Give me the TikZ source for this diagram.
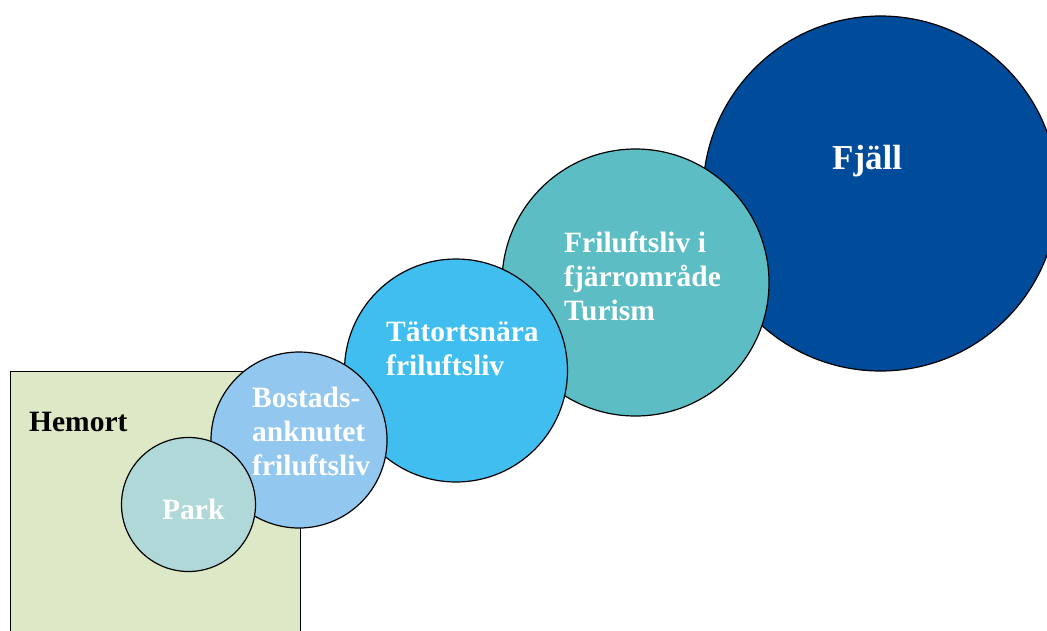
\documentclass[tikz,border=0pt]{standalone}
\usepackage{fontspec}
\setmainfont{Liberation Serif}
\definecolor{hemortfill}{RGB}{220,232,198}
\definecolor{parkfill}{RGB}{176,216,216}
\definecolor{bostfill}{RGB}{146,200,240}
\definecolor{tatfill}{RGB}{64,190,240}
\definecolor{frifill}{RGB}{92,190,196}
\definecolor{fjallfill}{RGB}{0,76,155}
\tikzset{
  ring/.style={circle, draw=black, line width=1.2pt, inner sep=0pt},
  lbl/.style={inner sep=0pt, text=white, align=left, font=\bfseries\fontsize{29.5}{34}\selectfont},
}
\begin{document}
\begin{tikzpicture}[x=1pt,y=-1pt]
\useasboundingbox (0,0) rectangle (1047,630);
\node[draw=black, line width=1.2pt, fill=hemortfill, anchor=north west, minimum width=290pt, minimum height=280pt, inner sep=0pt] (hemort) at (10,371) {};
\node[ring, fill=fjallfill, minimum size=355pt] (fjall) at (880.5,193.5) {};
\node[ring, fill=frifill, minimum size=267pt] (fri) at (635.5,282.5) {};
\node[ring, fill=tatfill, minimum size=223pt] (tat) at (456,370.5) {};
\node[ring, fill=bostfill, minimum size=176pt] (bost) at (299,440) {};
\node[ring, fill=parkfill, minimum size=134pt] (park) at (188.5,504.5) {};
\node[lbl, text=black, anchor=base west] (hemortlbl) at (29,431) {Hemort};
\node[lbl, anchor=base west] (parklbl) at (162,519) {Park};
\node[lbl, anchor=base west] (bostlbl) at (252,475) {Bostads-\\anknutet\\friluftsliv};
\node[lbl, anchor=base west] (tatlbl) at (386,375) {Tätortsnära\\friluftsliv};
\node[lbl, anchor=base west] (frilbl) at (564,320) {Friluftsliv i\\fjärrområde\\Turism};
\node[lbl, anchor=base west, font=\bfseries\fontsize{35}{40}\selectfont] (fjalllbl) at (832,169) {Fjäll};
\end{tikzpicture}
\end{document}
